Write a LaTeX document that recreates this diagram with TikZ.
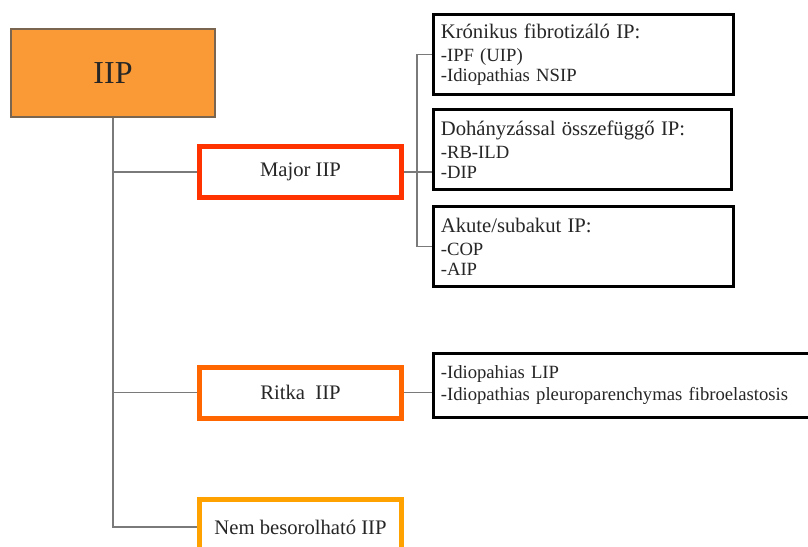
\documentclass[tikz,border=0pt]{standalone}
\usepackage{fontspec}
\setmainfont{Liberation Serif}
\usepackage{tikz}
\usetikzlibrary{calc,backgrounds}
\usepackage{xcolor}
\definecolor{iiporange}{HTML}{F99A36}
\definecolor{iipedge}{HTML}{7A6650}
\definecolor{majorred}{HTML}{FF3300}
\definecolor{ritkaorange}{HTML}{FF6600}
\definecolor{nemorange}{HTML}{FFA200}
\definecolor{linkgray}{HTML}{7A7A7A}

\begin{document}
\begin{tikzpicture}[x=0.75pt,y=-0.75pt]
			\tikzstyle{every node}=[text=black!85]
			\tikzstyle{group}=[draw, line width=3.75pt, fill=white, minimum width=151.5pt, minimum height=38.25pt, font=\fontsize{15.5}{18}\selectfont]
			\tikzstyle{listbox}=[draw=black, line width=2.25pt, fill=white, align=left, inner xsep=5.5pt, minimum height=60pt, font=\fontsize{14}{15}\selectfont]
			\tikzstyle{link}=[draw=linkgray, line width=1pt]
			\useasboundingbox (0,0) rectangle (808,547);
			% root
			\node [draw=iipedge, line width=0.8pt, fill=iiporange, minimum width=153pt, minimum height=66pt, font=\fontsize{24}{28}\selectfont] (iip) at (113,73) {IIP};
			% groups
			\node [group, draw=majorred] (major) at (300.5,172) {Major IIP};
			\node [group, draw=ritkaorange] (ritka) at (300.5,392.5) {Ritka\ \ IIP};
			\node [group, draw=nemorange, minimum height=41.25pt] (nem) at (300.5,527) {Nem besorolható IIP};
			% lists
			\node [listbox, text width=214pt] (kron) at (583.5,54.5) {{\fontsize{15.5}{18}\selectfont Krónikus fibrotizáló IP:}\\[2.25pt]-IPF (UIP)\\-Idiopathias NSIP};
			\node [listbox, text width=212.5pt, minimum width=223.5pt] (dohany) at (582.5,149.5) {{\fontsize{15.5}{18}\selectfont Dohányzással\ összefüggő IP:}\\[2.25pt]-RB-ILD\\-DIP};
			\node [listbox, text width=214pt] (akut) at (583.5,246.5) {{\fontsize{15.5}{18}\selectfont Akute/subakut\ IP:}\\[2.25pt]-COP\\-AIP};
			\node [listbox, text width=274pt, minimum height=48pt, font=\fontsize{14}{16.5}\selectfont] (idio) at (623.5,385.5) {-Idiopahias LIP\\-Idiopathias pleuroparenchymas fibroelastosis};
			\coordinate (fork) at (417,172);
			\begin{scope}[on background layer]
			\draw [link] (iip.south) |- (major.west);
			\draw [link] (iip.south) |- (ritka.west);
			\draw [link] (iip.south) |- (nem.west);
			\draw [link] (major.east) -- (fork) -- (fork -| dohany.west);
			\draw [link] (kron.west) -| (fork) |- (akut.west);
			\draw [link] (ritka.east) -- (ritka.east -| idio.west);
			\end{scope}
		\end{tikzpicture}
\end{document}
